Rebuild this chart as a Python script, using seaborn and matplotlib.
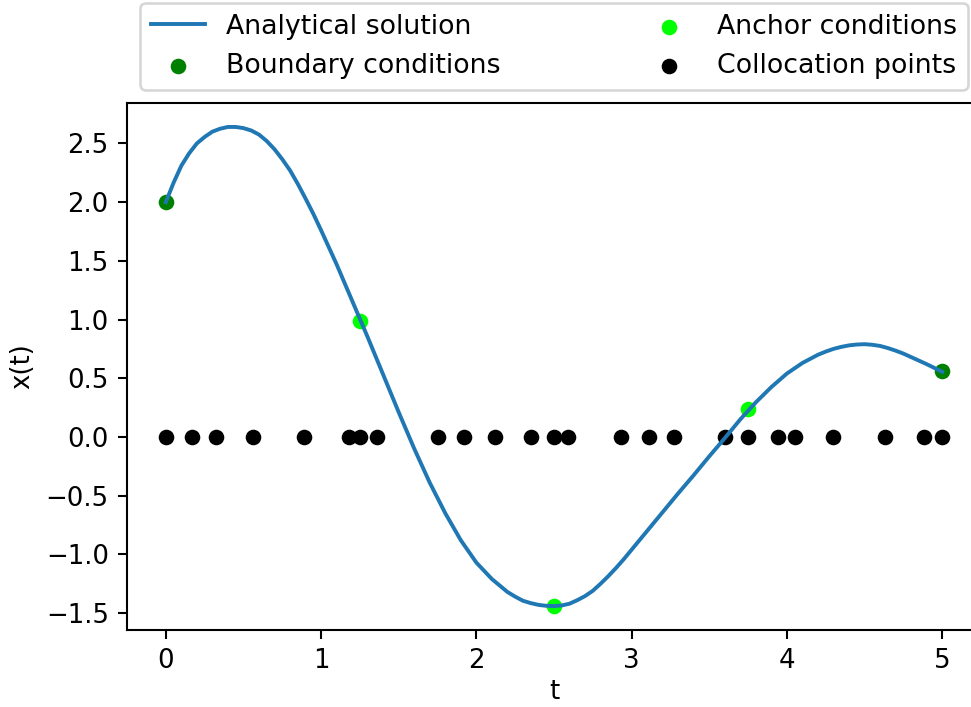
import matplotlib
matplotlib.use("Agg")
import matplotlib.pyplot as plt
import seaborn as sns

# Analytical solution x(t) on [0, 5]
t_curve = [0.0, 0.05, 0.1, 0.15, 0.2, 0.25, 0.3, 0.35, 0.4, 0.45, 0.5,
           0.55, 0.6, 0.65, 0.7, 0.75, 0.8, 0.85, 0.9, 0.95,
           1.0, 1.1, 1.2, 1.3, 1.4, 1.5, 1.6, 1.7, 1.8, 1.9,
           2.0, 2.1, 2.2, 2.25, 2.3, 2.35, 2.4, 2.45, 2.5, 2.55, 2.6, 2.65,
           2.7, 2.75, 2.8, 2.85, 2.9, 2.95,
           3.0, 3.1, 3.2, 3.3, 3.4, 3.5, 3.6, 3.7, 3.8, 3.9,
           4.0, 4.1, 4.2, 4.25, 4.3, 4.35, 4.4, 4.45, 4.5, 4.55, 4.6, 4.65,
           4.7, 4.75, 4.8, 4.9, 5.0]
x_curve = [2.00, 2.165, 2.31, 2.415, 2.50, 2.555, 2.60, 2.625, 2.64, 2.64, 2.63,
           2.61, 2.575, 2.52, 2.45, 2.365, 2.27, 2.155, 2.03, 1.90,
           1.76, 1.47, 1.16, 0.85, 0.53, 0.21, -0.10, -0.39, -0.65, -0.88,
           -1.07, -1.21, -1.32, -1.36, -1.395, -1.415, -1.43, -1.438, -1.44, -1.435, -1.42, -1.39,
           -1.355, -1.31, -1.25, -1.185, -1.115, -1.04,
           -0.96, -0.80, -0.64, -0.48, -0.325, -0.165, -0.01, 0.15, 0.295, 0.425,
           0.54, 0.63, 0.70, 0.727, 0.75, 0.767, 0.78, 0.787, 0.79, 0.785, 0.775, 0.757,
           0.735, 0.71, 0.68, 0.62, 0.555]

# Boundary conditions
bc_t = [0.0, 5.0]
bc_x = [2.0, 0.56]

# Anchor conditions
anchor_t = [1.25, 2.5, 3.75]
anchor_x = [0.99, -1.44, 0.24]

# Collocation points (on the t axis)
colloc_t = [0.0, 0.17, 0.32, 0.56, 0.89, 1.18, 1.25, 1.36, 1.75, 1.92,
            2.12, 2.35, 2.5, 2.59, 2.93, 3.11, 3.27, 3.6, 3.75, 3.94,
            4.05, 4.3, 4.63, 4.88, 5.0]
colloc_x = [0.0] * len(colloc_t)

DPI = 187
fig = plt.figure(figsize=(971 / DPI, 707 / DPI), dpi=DPI)
ax = fig.add_axes([127 / 971, 77 / 707, 854 / 971, 527 / 707])

sns.lineplot(x=t_curve, y=x_curve, ax=ax, color="#1f77b4", linewidth=1.5,
             label="Analytical solution", legend=False)
sns.scatterplot(x=bc_t, y=bc_x, ax=ax, color="green", s=36, linewidth=0,
                label="Boundary conditions", legend=False)
sns.scatterplot(x=anchor_t, y=anchor_x, ax=ax, color="lime", s=36, linewidth=0,
                label="Anchor conditions", legend=False)
sns.scatterplot(x=colloc_t, y=colloc_x, ax=ax, color="black", s=36, linewidth=0,
                label="Collocation points", legend=False)

ax.set_xlabel("t", labelpad=2)
ax.set_ylabel("x(t)")

ax.legend(bbox_to_anchor=(0, 1, 1, 0.2), loc="lower left", mode="expand", ncol=2,
          fontsize=10.3)

fig.savefig("out.png", dpi=DPI)
